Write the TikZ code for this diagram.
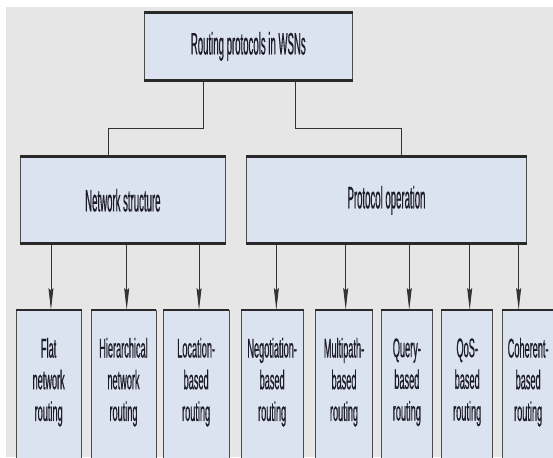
\documentclass[tikz,border=0pt]{standalone}
\usepackage{fontspec}
\usetikzlibrary{arrows.meta}
\newfontfamily\headfont[FakeStretch=0.31, FakeBold=0.5]{Liberation Sans}
\newfontfamily\leaffont[FakeStretch=0.34, FakeBold=0.5]{Liberation Sans}
\definecolor{bg}{HTML}{E6E6E6}
\definecolor{boxfill}{HTML}{DCE3F0}
\definecolor{rimcolor}{HTML}{2A2A2A}
\definecolor{sidecolor}{HTML}{4D4D4D}
\definecolor{linecolor}{HTML}{333333}
\definecolor{textcolor}{HTML}{1C1C28}

\begin{document}
\begin{tikzpicture}[
    x=1pt, y=-1pt,
    every node/.style={font=\headfont, text=textcolor},
    box/.style={rectangle, fill=boxfill, draw=sidecolor, line width=0.9pt, inner sep=0pt, align=center},
    headbox/.style={box, font=\headfont\fontsize{31}{36}\selectfont},
    leafbox/.style={box, anchor=north, minimum height=152pt, text depth=14pt,
                    font=\leaffont\fontsize{27}{31.7}\selectfont},
    rim/.style={rimcolor, line width=3pt},
    link/.style={linecolor, line width=0.9pt},
    arr/.style={linecolor, line width=0.9pt, -{Stealth[length=22pt, width=5pt, inset=2.5pt]}},
]
\clip (0,0) rectangle (553,457);
\fill[bg] (5.5,7.5) rectangle (553,457);

% ============================================================ root and the two families
\node[headbox, minimum width=208pt, minimum height=67pt] (wsn) at (248.3, 46.4)
    {Routing protocols in WSNs};
\node[headbox, minimum width=205.7pt, minimum height=86pt] (netstruct) at (122.85, 200.3)
    {Network structure};
\node[headbox, minimum width=279.6pt, minimum height=86pt] (protop) at (386.5, 200.3)
    {Protocol operation};

% ============================================================ the leaves
\node[leafbox, minimum width=65.3pt] (flat)  at (48.65, 310)  {Flat\\network\\routing};
\node[leafbox, minimum width=65pt]   (hier)  at (123.5, 310)  {Hierarchical\\network\\routing};
\node[leafbox, minimum width=65.7pt] (loc)   at (196.15, 310) {Location-\\based\\routing};
\node[leafbox, minimum width=62.3pt] (neg)   at (272.15, 310) {Negotiation-\\based\\routing};
\node[leafbox, minimum width=56.6pt] (multi) at (344, 310)    {Multipath-\\based\\routing};
\node[leafbox, minimum width=51.7pt] (query) at (406.85, 310) {Query-\\based\\routing};
\node[leafbox, minimum width=51pt]   (qos)   at (467.2, 310)  {QoS-\\based\\routing};
\node[leafbox, minimum width=51.7pt] (coher) at (528.15, 310) {Coherent-\\based\\routing};

% heavy top and bottom edges
\foreach \n in {wsn, netstruct, protop}{
    \draw[rim] (\n.north west) -- (\n.north east);
    \draw[rim] (\n.south west) -- (\n.south east);
}
\foreach \n in {flat, hier, loc, neg, multi, query, qos, coher}
    \draw[rim, line width=2.5pt] (\n.north west) -- (\n.north east);

% ============================================================ connectors
\draw[link] ([xshift=-45pt]wsn.south) -- ++(0,48.3) -| ([xshift=-14.5pt]netstruct.north);
\draw[link] ([xshift=47.4pt]wsn.south) -- ++(0,48.3) -| ([xshift=14.8pt]protop.north);

\foreach \n/\s in {flat/2.3, hier/3.2, loc/2.9}
    \draw[arr] ([xshift=\s pt]\n.north |- netstruct.south) -- ([xshift=\s pt]\n.north);
\foreach \n/\s in {neg/4.2, multi/1.7, query/2.4, qos/2.5, coher/-9.5}
    \draw[arr] ([xshift=\s pt]\n.north |- protop.south) -- ([xshift=\s pt]\n.north);

\end{tikzpicture}
\end{document}
